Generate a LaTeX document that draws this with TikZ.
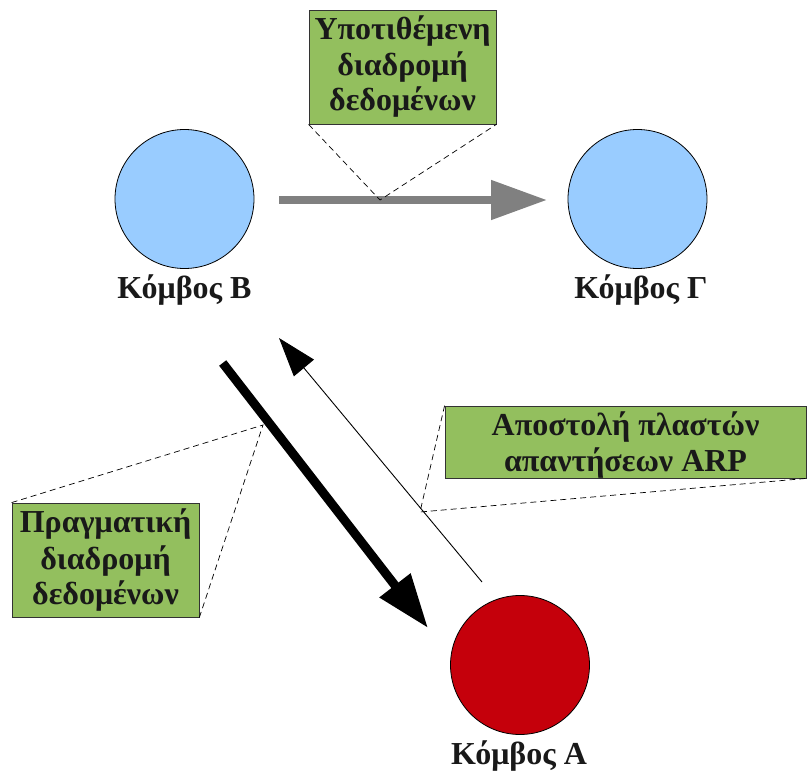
\documentclass[tikz,border=0pt]{standalone}
\usepackage{fontspec}
\setmainfont{Liberation Serif}
\usetikzlibrary{arrows.meta}
\definecolor{nodeblue}{RGB}{153,204,255}
\definecolor{nodered}{RGB}{197,0,11}
\definecolor{boxgreen}{RGB}{147,191,94}
\definecolor{arrowgray}{RGB}{128,128,128}
\tikzset{
  netnode/.style={circle,draw=black,line width=0.8pt,minimum size=139pt,inner sep=0pt},
  lbl/.style={font=\fontsize{32}{36}\selectfont\bfseries,text=black!90,anchor=base,inner sep=0pt},
  callout/.style={draw=black!80,line width=0.8pt,fill=boxgreen,inner sep=0pt,rectangle},
  leader/.style={draw=black,line width=0.7pt,dash pattern=on 6pt off 4pt},
}
\begin{document}
\begin{tikzpicture}[x=1pt,y=-1pt]
\useasboundingbox (0,0) rectangle (807,771);
% nodes
\node[netnode,fill=nodeblue] (B) at (184.5,199) {};
\node[netnode,fill=nodeblue] (G) at (637.5,199) {};
\node[netnode,fill=nodered] (A) at (520,665) {};
\node[lbl] (lB) at (184.5,298) {Κόμβος Β};
\node[lbl] (lG) at (641,298) {Κόμβος Γ};
\node[lbl] (lA) at (519,764) {Κόμβος Α};
% arrow endpoints
\coordinate (g1) at (279,200);
\coordinate (g2) at (547,200);
\coordinate (k1) at (222.7,363);
\coordinate (k2) at (428,628);
\coordinate (t1) at (482,582);
\coordinate (t2) at (279,338);
% callout points
\coordinate (cp1) at (380,200);
\coordinate (cp2) at (263,425);
\coordinate (cp3) at (420,512);
% arrows
\draw[arrowgray,line width=8pt,-{Triangle[length=56pt,width=38pt]}] (g1) -- (g2);
\draw[black,line width=9pt,-{Triangle[length=54pt,width=37pt]}] (k1) -- (k2);
\draw[black,line width=0.9pt,-{Triangle[length=39pt,width=26pt]}] (t1) -- (t2);
% callout boxes
\node[callout,minimum width=187pt,minimum height=114pt] (box1) at (402.5,67) {};
\node[callout,minimum width=187pt,minimum height=114pt] (box2) at (105.5,560) {};
\node[callout,minimum width=361pt,minimum height=72pt] (box3) at (625.5,442) {};
% leaders
\draw[leader] (box1.south west) -- (cp1) -- (box1.south east);
\draw[leader] (box2.north west) -- (cp2) -- (box2.south east);
\draw[leader] (box3.north west) -- (cp3) -- (box3.south east);
% texts
\node[lbl] (b1a) at (402.5,39) {Υποτιθέμενη};
\node[lbl] (b1b) at (402.5,75) {διαδρομή};
\node[lbl] (b1c) at (402.5,110) {δεδομένων};
\node[lbl] (b2a) at (105.5,532.7) {Πραγματική};
\node[lbl] (b2b) at (105.5,569.3) {διαδρομή};
\node[lbl] (b2c) at (105.5,604) {δεδομένων};
\node[lbl] (b3a) at (625.5,435.5) {Αποστολή πλαστών};
\node[lbl] (b3b) at (625.5,471.7) {απαντήσεων ARP};
\end{tikzpicture}
\end{document}
